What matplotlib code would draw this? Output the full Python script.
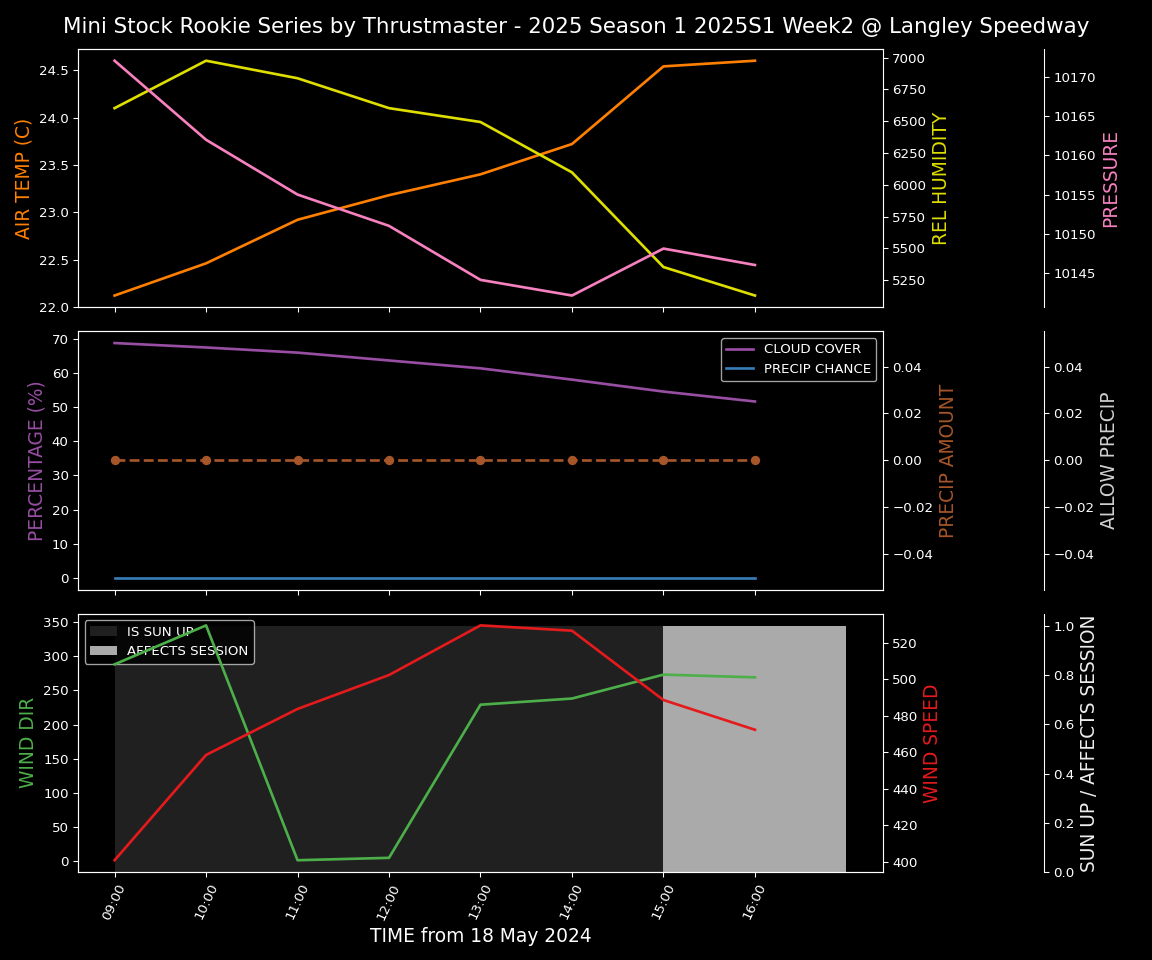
import matplotlib
matplotlib.use('Agg')
import matplotlib.pyplot as plt
import matplotlib.dates as mdates
import pandas as pd

# ── data ────────────────────────────────────────────────────────────────
times = ["09:00", "10:00", "11:00", "12:00", "13:00", "14:00", "15:00", "16:00"]
air_temp = [22.12, 22.46, 22.92, 23.18, 23.40, 23.72, 24.54, 24.60]
rel_humidity = [6603, 6976, 6838, 6603, 6494, 6098, 5354, 5130]
pressure = [10172.1, 10162.0, 10155.0, 10151.0, 10144.1, 10142.1, 10148.1, 10146.0]
cloud_cover = [68.7, 67.4, 65.9, 63.6, 61.3, 58.0, 54.5, 51.6]
precip_chance = [0, 0, 0, 0, 0, 0, 0, 0]
precip_amount = [0, 0, 0, 0, 0, 0, 0, 0]
allow_precip = [0, 0, 0, 0, 0, 0, 0, 0]
wind_dir = [288, 345, 1.5, 5, 229, 238, 273, 269]
wind_speed = [400.9, 458.6, 483.8, 502.4, 529.6, 526.7, 488.7, 472.4]
sun_up = [1, 1, 1, 1, 1, 1, 1, 1]
affects_session = [0, 0, 0, 0, 0, 0, 1, 1]

title = "Mini Stock Rookie Series by Thrustmaster - 2025 Season 1 2025S1 Week2 @ Langley Speedway"
date_str = "18 May 2024"

x = pd.to_datetime(["2024-05-18 " + t for t in times])

plt.style.use('dark_background')
C_TEMP = '#ff7f00'
C_HUM = '#dede00'
C_PRES = '#f781bf'
C_CLOUD = '#984ea3'
C_PCHANCE = '#377eb8'
C_PAMT = '#a65628'
C_ALLOW = '#d0d0d0'
C_WDIR = '#4daf4a'
C_WSPD = '#e41a1c'

fig, (ax1, ax2, ax3) = plt.subplots(3, 1, figsize=(12, 10), dpi=96, sharex=True)
fig.subplots_adjust(left=0.0677, right=0.7665, top=0.949, bottom=0.0917, hspace=0.093)
fig.suptitle(title, fontsize=16, y=0.982)

# ── top: temp / humidity / pressure ─────────────────────────────────────
ax1.plot(x, air_temp, color=C_TEMP, lw=2)
ax1.set_ylabel('AIR TEMP (C)', color=C_TEMP, fontsize=14)
ax1b = ax1.twinx()
ax1b.plot(x, rel_humidity, color=C_HUM, lw=2)
ax1b.set_ylabel('REL HUMIDITY', color=C_HUM, fontsize=14)
ax1c = ax1.twinx()
ax1c.spines['right'].set_position(('axes', 1.2))
ax1c.plot(x, pressure, color=C_PRES, lw=2)
ax1c.set_ylabel('PRESSURE', color=C_PRES, fontsize=14)

# ── middle: cloud / precip ──────────────────────────────────────────────
ax2.plot(x, cloud_cover, color=C_CLOUD, lw=2, label='CLOUD COVER')
ax2.plot(x, precip_chance, color=C_PCHANCE, lw=2, label='PRECIP CHANCE')
ax2.set_ylabel('PERCENTAGE (%)', color=C_CLOUD, fontsize=14)
ax2.legend(loc='upper right')
ax2b = ax2.twinx()
ax2b.plot(x, precip_amount, color=C_PAMT, lw=2, ls='--', marker='o', ms=6)
ax2b.set_ylim(-0.055, 0.055)
ax2b.set_ylabel('PRECIP AMOUNT', color=C_PAMT, fontsize=14)
ax2c = ax2.twinx()
ax2c.spines['right'].set_position(('axes', 1.2))
ax2c.bar(x, allow_precip, width=1 / 24, align='edge', color=C_ALLOW)
ax2c.set_ylim(-0.055, 0.055)
ax2c.set_ylabel('ALLOW PRECIP', color=C_ALLOW, fontsize=14)

# ── bottom: wind / sun up ───────────────────────────────────────────────
ax3.plot(x, wind_dir, color=C_WDIR, lw=2)
ax3.set_ylabel('WIND DIR', color=C_WDIR, fontsize=14)
ax3b = ax3.twinx()
ax3b.plot(x, wind_speed, color=C_WSPD, lw=2)
ax3b.set_ylabel('WIND SPEED', color=C_WSPD, fontsize=14)
ax3c = ax3.twinx()
ax3c.spines['right'].set_position(('axes', 1.2))
ax3c.bar(x, sun_up, width=1 / 24, align='edge', color='#202020', label='IS SUN UP')
ax3c.bar(x, affects_session, width=1 / 24, align='edge', color='#aaaaaa', label='AFFECTS SESSION')
ax3c.set_ylabel('SUN UP / AFFECTS SESSION', color='#eeeeee', fontsize=14)
ax3c.legend(loc='upper left')
# bars behind the lines
ax3c.set_zorder(0)
ax3.set_zorder(1)
ax3b.set_zorder(2)
ax3.patch.set_visible(False)

ax3.xaxis.set_major_formatter(mdates.DateFormatter('%H:%M'))
ax3.set_xticks(x)
for lbl in ax3.get_xticklabels():
    lbl.set_rotation(65)
ax3.set_xlabel('TIME from ' + date_str, fontsize=14)

fig.savefig('out.png', dpi=96, facecolor='black')
